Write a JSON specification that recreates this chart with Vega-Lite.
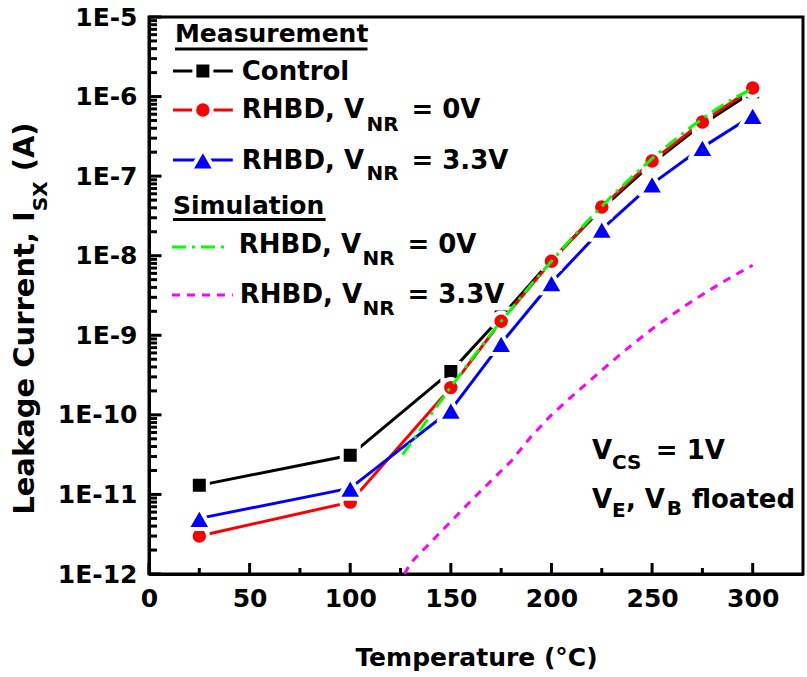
{
  "$schema": "https://vega.github.io/schema/vega-lite/v6.json",
  "width": 654,
  "height": 557,
  "autosize": {"type": "none"},
  "padding": {"left": 149, "top": 17, "right": 4, "bottom": 103},
  "background": "white",
  "config": {"view": {"stroke": "black", "strokeWidth": 3}, "font": "DejaVu Sans"},
  "data": {"values": [{}]},
  "datasets": {
    "xMajor": [{"v": 0}, {"v": 50}, {"v": 100}, {"v": 150}, {"v": 200}, {"v": 250}, {"v": 300}],
    "xMinor": [{"v": 25}, {"v": 75}, {"v": 125}, {"v": 175}, {"v": 225}, {"v": 275}],
    "yMajor": [{"v": 1e-12}, {"v": 1e-11}, {"v": 1e-10}, {"v": 1e-9}, {"v": 1e-8}, {"v": 1e-7}, {"v": 1e-6}, {"v": 1e-5}],
    "yMinor": [
      {"v": 2e-12}, {"v": 3e-12}, {"v": 4e-12}, {"v": 5e-12}, {"v": 6e-12}, {"v": 7e-12}, {"v": 8e-12}, {"v": 9e-12},
      {"v": 2e-11}, {"v": 3e-11}, {"v": 4e-11}, {"v": 5e-11}, {"v": 6e-11}, {"v": 7e-11}, {"v": 8e-11}, {"v": 9e-11},
      {"v": 2e-10}, {"v": 3e-10}, {"v": 4e-10}, {"v": 5e-10}, {"v": 6e-10}, {"v": 7e-10}, {"v": 8e-10}, {"v": 9e-10},
      {"v": 2e-9}, {"v": 3e-9}, {"v": 4e-9}, {"v": 5e-9}, {"v": 6e-9}, {"v": 7e-9}, {"v": 8e-9}, {"v": 9e-9},
      {"v": 2e-8}, {"v": 3e-8}, {"v": 4e-8}, {"v": 5e-8}, {"v": 6e-8}, {"v": 7e-8}, {"v": 8e-8}, {"v": 9e-8},
      {"v": 2e-7}, {"v": 3e-7}, {"v": 4e-7}, {"v": 5e-7}, {"v": 6e-7}, {"v": 7e-7}, {"v": 8e-7}, {"v": 9e-7},
      {"v": 2e-6}, {"v": 3e-6}, {"v": 4e-6}, {"v": 5e-6}, {"v": 6e-6}, {"v": 7e-6}, {"v": 8e-6}, {"v": 9e-6}
    ],
    "meas": [
      {"series": "Control", "T": 25, "I": 1.3e-11},
      {"series": "Control", "T": 100, "I": 3.1e-11},
      {"series": "Control", "T": 150, "I": 3.5e-10},
      {"series": "Control", "T": 175, "I": 1.7e-9},
      {"series": "Control", "T": 200, "I": 8.8e-9},
      {"series": "Control", "T": 225, "I": 3.9e-8},
      {"series": "Control", "T": 250, "I": 1.45e-7},
      {"series": "Control", "T": 275, "I": 4.5e-7},
      {"series": "Control", "T": 300, "I": 1.15e-6},
      {"series": "RHBD 0V", "T": 25, "I": 3.0e-12},
      {"series": "RHBD 0V", "T": 100, "I": 8.0e-12},
      {"series": "RHBD 0V", "T": 150, "I": 2.2e-10},
      {"series": "RHBD 0V", "T": 175, "I": 1.5e-9},
      {"series": "RHBD 0V", "T": 200, "I": 8.5e-9},
      {"series": "RHBD 0V", "T": 225, "I": 4.1e-8},
      {"series": "RHBD 0V", "T": 250, "I": 1.55e-7},
      {"series": "RHBD 0V", "T": 275, "I": 4.8e-7},
      {"series": "RHBD 0V", "T": 300, "I": 1.28e-6},
      {"series": "RHBD 3.3V", "T": 25, "I": 5.0e-12},
      {"series": "RHBD 3.3V", "T": 100, "I": 1.2e-11},
      {"series": "RHBD 3.3V", "T": 150, "I": 1.15e-10},
      {"series": "RHBD 3.3V", "T": 175, "I": 7.9e-10},
      {"series": "RHBD 3.3V", "T": 200, "I": 4.6e-9},
      {"series": "RHBD 3.3V", "T": 225, "I": 2.15e-8},
      {"series": "RHBD 3.3V", "T": 250, "I": 8.0e-8},
      {"series": "RHBD 3.3V", "T": 275, "I": 2.3e-7},
      {"series": "RHBD 3.3V", "T": 300, "I": 5.8e-7}
    ],
    "sim": [
      {"series": "Sim 0V", "T": 126, "I": 3.16e-11},
      {"series": "Sim 0V", "T": 130, "I": 4.37e-11},
      {"series": "Sim 0V", "T": 140, "I": 1.0e-10},
      {"series": "Sim 0V", "T": 150, "I": 2.24e-10},
      {"series": "Sim 0V", "T": 160, "I": 4.9e-10},
      {"series": "Sim 0V", "T": 170, "I": 1.05e-9},
      {"series": "Sim 0V", "T": 180, "I": 2.14e-9},
      {"series": "Sim 0V", "T": 190, "I": 4.37e-9},
      {"series": "Sim 0V", "T": 200, "I": 8.51e-9},
      {"series": "Sim 0V", "T": 210, "I": 1.66e-8},
      {"series": "Sim 0V", "T": 220, "I": 3.09e-8},
      {"series": "Sim 0V", "T": 230, "I": 5.62e-8},
      {"series": "Sim 0V", "T": 240, "I": 9.77e-8},
      {"series": "Sim 0V", "T": 250, "I": 1.66e-7},
      {"series": "Sim 0V", "T": 260, "I": 2.69e-7},
      {"series": "Sim 0V", "T": 270, "I": 4.27e-7},
      {"series": "Sim 0V", "T": 280, "I": 6.46e-7},
      {"series": "Sim 0V", "T": 290, "I": 9.33e-7},
      {"series": "Sim 0V", "T": 300, "I": 1.26e-6},
      {"series": "Sim 3.3V", "T": 127, "I": 1.0e-12},
      {"series": "Sim 3.3V", "T": 130, "I": 1.38e-12},
      {"series": "Sim 3.3V", "T": 140, "I": 2.51e-12},
      {"series": "Sim 3.3V", "T": 150, "I": 4.57e-12},
      {"series": "Sim 3.3V", "T": 160, "I": 8.32e-12},
      {"series": "Sim 3.3V", "T": 170, "I": 1.48e-11},
      {"series": "Sim 3.3V", "T": 180, "I": 2.63e-11},
      {"series": "Sim 3.3V", "T": 190, "I": 5.37e-11},
      {"series": "Sim 3.3V", "T": 200, "I": 1.0e-10},
      {"series": "Sim 3.3V", "T": 210, "I": 1.7e-10},
      {"series": "Sim 3.3V", "T": 220, "I": 2.82e-10},
      {"series": "Sim 3.3V", "T": 230, "I": 4.68e-10},
      {"series": "Sim 3.3V", "T": 240, "I": 7.59e-10},
      {"series": "Sim 3.3V", "T": 250, "I": 1.2e-9},
      {"series": "Sim 3.3V", "T": 260, "I": 1.82e-9},
      {"series": "Sim 3.3V", "T": 270, "I": 2.69e-9},
      {"series": "Sim 3.3V", "T": 280, "I": 3.89e-9},
      {"series": "Sim 3.3V", "T": 290, "I": 5.5e-9},
      {"series": "Sim 3.3V", "T": 300, "I": 7.59e-9}
    ]
  },
  "layer": [
    {
      "data": {"name": "meas"},
      "mark": {"type": "line", "strokeWidth": 3},
      "encoding": {
        "x": {
          "field": "T", "type": "quantitative",
          "scale": {"domain": [0, 325], "nice": false, "zero": false},
          "axis": {
            "title": "Temperature (°C)",
            "ticks": false,
            "values": [0, 50, 100, 150, 200, 250, 300],
            "domainWidth": 3, "domainColor": "black",
            "labelFont": "DejaVu Sans", "labelFontWeight": "bold", "labelFontSize": 25, "labelColor": "black",
            "labelPadding": 12, "labelOverlap": false, "labelFlush": false,
            "grid": false,
            "titleFont": "DejaVu Sans", "titleFontWeight": "bold", "titleFontSize": 25, "titleColor": "black",
            "titleBaseline": "alphabetic", "titleY": 91
          }
        },
        "y": {
          "field": "I", "type": "quantitative",
          "scale": {"type": "log", "domain": [1e-12, 1e-5], "nice": false},
          "axis": {
            "title": null,
            "ticks": false,
            "values": [1e-12, 1e-11, 1e-10, 1e-9, 1e-8, 1e-7, 1e-6, 1e-5],
            "labelExpr": "'1E' + round(log(datum.value)/LN10)",
            "domainWidth": 3, "domainColor": "black",
            "labelFont": "DejaVu Sans", "labelFontWeight": "bold", "labelFontSize": 25, "labelColor": "black",
            "labelPadding": 12, "labelOverlap": false, "labelFlush": false, "labelBaseline": "middle",
            "grid": false
          }
        },
        "color": {
          "field": "series", "type": "nominal",
          "scale": {"domain": ["Control", "RHBD 0V", "RHBD 3.3V"], "range": ["#000000", "#ff0000", "#0000ff"]},
          "legend": null
        }
      }
    },
    {
      "data": {"name": "yMajor"},
      "mark": {"type": "rule", "strokeWidth": 3, "color": "black"},
      "encoding": {"y": {"field": "v", "type": "quantitative"}, "x": {"datum": 0, "type": "quantitative"}, "x2": {"datum": 6.2}}
    },
    {
      "data": {"name": "yMinor"},
      "mark": {"type": "rule", "strokeWidth": 3, "color": "black"},
      "encoding": {"y": {"field": "v", "type": "quantitative"}, "x": {"datum": 0, "type": "quantitative"}, "x2": {"datum": 3.97}}
    },
    {
      "data": {"name": "xMajor"},
      "mark": {"type": "rule", "strokeWidth": 3, "color": "black"},
      "encoding": {"x": {"field": "v", "type": "quantitative"}, "y": {"datum": 1e-12, "type": "quantitative"}, "y2": {"datum": 1.374e-12}}
    },
    {
      "data": {"name": "xMinor"},
      "mark": {"type": "rule", "strokeWidth": 3, "color": "black"},
      "encoding": {"x": {"field": "v", "type": "quantitative"}, "y": {"datum": 1e-12, "type": "quantitative"}, "y2": {"datum": 1.19e-12}}
    },
    {
      "data": {"name": "meas"},
      "transform": [{"filter": "datum.series == 'Control'"}],
      "mark": {"type": "point", "shape": "square", "filled": true, "color": "#000000", "size": 289, "opacity": 1, "stroke": "white", "strokeWidth": 4},
      "encoding": {"x": {"field": "T", "type": "quantitative"}, "y": {"field": "I", "type": "quantitative"}}
    },
    {
      "data": {"name": "meas"},
      "transform": [{"filter": "datum.series == 'RHBD 0V'"}],
      "mark": {"type": "point", "shape": "circle", "filled": true, "color": "#ff0000", "size": 305, "opacity": 1, "stroke": "white", "strokeWidth": 4},
      "encoding": {"x": {"field": "T", "type": "quantitative"}, "y": {"field": "I", "type": "quantitative"}}
    },
    {
      "data": {"name": "meas"},
      "transform": [{"filter": "datum.series == 'RHBD 3.3V'"}],
      "mark": {"type": "point", "shape": "triangle-up", "filled": true, "color": "#0000ff", "size": 600, "opacity": 1, "stroke": "white", "strokeWidth": 4, "strokeJoin": "round"},
      "encoding": {"x": {"field": "T", "type": "quantitative"}, "y": {"field": "I", "type": "quantitative"}}
    },
    {
      "data": {"name": "sim"},
      "transform": [{"filter": "datum.series == 'Sim 3.3V'"}],
      "mark": {"type": "line", "strokeWidth": 3, "color": "#ff00ff", "strokeDash": [8, 7], "clip": true},
      "encoding": {"x": {"field": "T", "type": "quantitative"}, "y": {"field": "I", "type": "quantitative"}}
    },
    {
      "data": {"name": "sim"},
      "transform": [{"filter": "datum.series == 'Sim 0V'"}],
      "mark": {"type": "line", "strokeWidth": 3, "color": "#00ff00", "strokeDash": [14, 6, 3, 6], "clip": true},
      "encoding": {"x": {"field": "T", "type": "quantitative"}, "y": {"field": "I", "type": "quantitative"}}
    },

    {"mark": {"type": "text", "align": "left", "baseline": "alphabetic", "font": "DejaVu Sans", "fontWeight": "bold", "fontSize": 25, "color": "black", "text": "Measurement"},
     "encoding": {"x": {"datum": 12.89, "type": "quantitative"}, "y": {"datum": 4.852e-6, "type": "quantitative"}}},
    {"mark": {"type": "rule", "strokeWidth": 3, "color": "black"},
     "encoding": {"x": {"datum": 12.89, "type": "quantitative"}, "x2": {"datum": 108.58}, "y": {"datum": 3.963e-6, "type": "quantitative"}}},

    {"mark": {"type": "rule", "strokeWidth": 3, "color": "black"},
     "encoding": {"x": {"datum": 11.9, "type": "quantitative"}, "x2": {"datum": 41.65}, "y": {"datum": 2.097e-6, "type": "quantitative"}}},
    {"mark": {"type": "point", "shape": "square", "filled": true, "color": "#000000", "size": 289, "opacity": 1, "stroke": "white", "strokeWidth": 4},
     "encoding": {"x": {"datum": 26.77, "type": "quantitative"}, "y": {"datum": 2.097e-6, "type": "quantitative"}}},
    {"mark": {"type": "text", "align": "left", "baseline": "alphabetic", "font": "DejaVu Sans", "fontWeight": "bold", "fontSize": 26, "color": "black", "text": "Control"},
     "encoding": {"x": {"datum": 46.11, "type": "quantitative"}, "y": {"datum": 1.616e-6, "type": "quantitative"}}},

    {"mark": {"type": "rule", "strokeWidth": 3, "color": "#ff0000"},
     "encoding": {"x": {"datum": 11.9, "type": "quantitative"}, "x2": {"datum": 41.65}, "y": {"datum": 6.786e-7, "type": "quantitative"}}},
    {"mark": {"type": "point", "shape": "circle", "filled": true, "color": "#ff0000", "size": 305, "opacity": 1, "stroke": "white", "strokeWidth": 4},
     "encoding": {"x": {"datum": 26.77, "type": "quantitative"}, "y": {"datum": 6.786e-7, "type": "quantitative"}}},
    {"mark": {"type": "text", "align": "left", "baseline": "alphabetic", "font": "DejaVu Sans", "fontWeight": "bold", "fontSize": 26, "color": "black", "text": "RHBD, V"},
     "encoding": {"x": {"datum": 46.11, "type": "quantitative"}, "y": {"datum": 5.384e-7, "type": "quantitative"}}},
    {"mark": {"type": "text", "align": "left", "baseline": "alphabetic", "font": "DejaVu Sans", "fontWeight": "bold", "fontSize": 20, "color": "black", "text": "NR"},
     "encoding": {"x": {"datum": 108.08, "type": "quantitative"}, "y": {"datum": 3.697e-7, "type": "quantitative"}}},
    {"mark": {"type": "text", "align": "left", "baseline": "alphabetic", "font": "DejaVu Sans", "fontWeight": "bold", "fontSize": 26, "color": "black", "text": "= 0V"},
     "encoding": {"x": {"datum": 130.39, "type": "quantitative"}, "y": {"datum": 5.384e-7, "type": "quantitative"}}},

    {"mark": {"type": "rule", "strokeWidth": 3, "color": "#0000ff"},
     "encoding": {"x": {"datum": 11.9, "type": "quantitative"}, "x2": {"datum": 41.65}, "y": {"datum": 1.597e-7, "type": "quantitative"}}},
    {"mark": {"type": "point", "shape": "triangle-up", "filled": true, "color": "#0000ff", "size": 600, "opacity": 1, "stroke": "white", "strokeWidth": 4, "strokeJoin": "round"},
     "encoding": {"x": {"datum": 26.77, "type": "quantitative"}, "y": {"datum": 1.597e-7, "type": "quantitative"}}},
    {"mark": {"type": "text", "align": "left", "baseline": "alphabetic", "font": "DejaVu Sans", "fontWeight": "bold", "fontSize": 26, "color": "black", "text": "RHBD, V"},
     "encoding": {"x": {"datum": 46.11, "type": "quantitative"}, "y": {"datum": 1.232e-7, "type": "quantitative"}}},
    {"mark": {"type": "text", "align": "left", "baseline": "alphabetic", "font": "DejaVu Sans", "fontWeight": "bold", "fontSize": 20, "color": "black", "text": "NR"},
     "encoding": {"x": {"datum": 108.08, "type": "quantitative"}, "y": {"datum": 8.96e-8, "type": "quantitative"}}},
    {"mark": {"type": "text", "align": "left", "baseline": "alphabetic", "font": "DejaVu Sans", "fontWeight": "bold", "fontSize": 26, "color": "black", "text": "= 3.3V"},
     "encoding": {"x": {"datum": 130.39, "type": "quantitative"}, "y": {"datum": 1.232e-7, "type": "quantitative"}}},

    {"mark": {"type": "text", "align": "left", "baseline": "alphabetic", "font": "DejaVu Sans", "fontWeight": "bold", "fontSize": 25, "color": "black", "text": "Simulation"},
     "encoding": {"x": {"datum": 11.9, "type": "quantitative"}, "y": {"datum": 3.35e-8, "type": "quantitative"}}},
    {"mark": {"type": "rule", "strokeWidth": 3, "color": "black"},
     "encoding": {"x": {"datum": 11.9, "type": "quantitative"}, "x2": {"datum": 87.75}, "y": {"datum": 2.858e-8, "type": "quantitative"}}},

    {"mark": {"type": "rule", "strokeWidth": 3, "color": "#00ff00", "strokeDash": [14, 6, 3, 6]},
     "encoding": {"x": {"datum": 11.4, "type": "quantitative"}, "x2": {"datum": 37.68}, "y": {"datum": 1.29e-8, "type": "quantitative"}}},
    {"mark": {"type": "text", "align": "left", "baseline": "alphabetic", "font": "DejaVu Sans", "fontWeight": "bold", "fontSize": 26, "color": "black", "text": "RHBD, V"},
     "encoding": {"x": {"datum": 44.62, "type": "quantitative"}, "y": {"datum": 1.084e-8, "type": "quantitative"}}},
    {"mark": {"type": "text", "align": "left", "baseline": "alphabetic", "font": "DejaVu Sans", "fontWeight": "bold", "fontSize": 20, "color": "black", "text": "NR"},
     "encoding": {"x": {"datum": 106.1, "type": "quantitative"}, "y": {"datum": 7.661e-9, "type": "quantitative"}}},
    {"mark": {"type": "text", "align": "left", "baseline": "alphabetic", "font": "DejaVu Sans", "fontWeight": "bold", "fontSize": 26, "color": "black", "text": "= 0V"},
     "encoding": {"x": {"datum": 128.41, "type": "quantitative"}, "y": {"datum": 1.084e-8, "type": "quantitative"}}},

    {"mark": {"type": "rule", "strokeWidth": 3, "color": "#ff00ff", "strokeDash": [8, 7]},
     "encoding": {"x": {"datum": 11.4, "type": "quantitative"}, "x2": {"datum": 41.65}, "y": {"datum": 3.217e-9, "type": "quantitative"}}},
    {"mark": {"type": "text", "align": "left", "baseline": "alphabetic", "font": "DejaVu Sans", "fontWeight": "bold", "fontSize": 26, "color": "black", "text": "RHBD, V"},
     "encoding": {"x": {"datum": 45.12, "type": "quantitative"}, "y": {"datum": 2.553e-9, "type": "quantitative"}}},
    {"mark": {"type": "text", "align": "left", "baseline": "alphabetic", "font": "DejaVu Sans", "fontWeight": "bold", "fontSize": 20, "color": "black", "text": "NR"},
     "encoding": {"x": {"datum": 106.1, "type": "quantitative"}, "y": {"datum": 1.804e-9, "type": "quantitative"}}},
    {"mark": {"type": "text", "align": "left", "baseline": "alphabetic", "font": "DejaVu Sans", "fontWeight": "bold", "fontSize": 26, "color": "black", "text": "= 3.3V"},
     "encoding": {"x": {"datum": 128.41, "type": "quantitative"}, "y": {"datum": 2.553e-9, "type": "quantitative"}}},

    {"mark": {"type": "text", "align": "left", "baseline": "alphabetic", "font": "DejaVu Sans", "fontWeight": "bold", "fontSize": 26, "color": "black", "text": "V"},
     "encoding": {"x": {"datum": 220.13, "type": "quantitative"}, "y": {"datum": 2.801e-11, "type": "quantitative"}}},
    {"mark": {"type": "text", "align": "left", "baseline": "alphabetic", "font": "DejaVu Sans", "fontWeight": "bold", "fontSize": 20, "color": "black", "text": "CS"},
     "encoding": {"x": {"datum": 230.04, "type": "quantitative"}, "y": {"datum": 2.097e-11, "type": "quantitative"}}},
    {"mark": {"type": "text", "align": "left", "baseline": "alphabetic", "font": "DejaVu Sans", "fontWeight": "bold", "fontSize": 26, "color": "black", "text": "= 1V"},
     "encoding": {"x": {"datum": 251.86, "type": "quantitative"}, "y": {"datum": 2.801e-11, "type": "quantitative"}}},
    {"mark": {"type": "text", "align": "left", "baseline": "alphabetic", "font": "DejaVu Sans", "fontWeight": "bold", "fontSize": 26, "color": "black", "text": "V"},
     "encoding": {"x": {"datum": 220.13, "type": "quantitative"}, "y": {"datum": 6.786e-12, "type": "quantitative"}}},
    {"mark": {"type": "text", "align": "left", "baseline": "alphabetic", "font": "DejaVu Sans", "fontWeight": "bold", "fontSize": 20, "color": "black", "text": "E"},
     "encoding": {"x": {"datum": 230.04, "type": "quantitative"}, "y": {"datum": 5.232e-12, "type": "quantitative"}}},
    {"mark": {"type": "text", "align": "left", "baseline": "alphabetic", "font": "DejaVu Sans", "fontWeight": "bold", "fontSize": 26, "color": "black", "text": ", V"},
     "encoding": {"x": {"datum": 236.99, "type": "quantitative"}, "y": {"datum": 6.786e-12, "type": "quantitative"}}},
    {"mark": {"type": "text", "align": "left", "baseline": "alphabetic", "font": "DejaVu Sans", "fontWeight": "bold", "fontSize": 20, "color": "black", "text": "B"},
     "encoding": {"x": {"datum": 257.31, "type": "quantitative"}, "y": {"datum": 5.543e-12, "type": "quantitative"}}},
    {"mark": {"type": "text", "align": "left", "baseline": "alphabetic", "font": "DejaVu Sans", "fontWeight": "bold", "fontSize": 26, "color": "black", "text": "floated"},
     "encoding": {"x": {"datum": 269.71, "type": "quantitative"}, "y": {"datum": 6.786e-12, "type": "quantitative"}}},

    {"mark": {"type": "text", "align": "left", "baseline": "alphabetic", "angle": 270, "font": "DejaVu Sans", "fontWeight": "bold", "fontSize": 29, "color": "black", "text": "Leakage Current, I"},
     "encoding": {"x": {"datum": -57.0, "type": "quantitative"}, "y": {"datum": 5.543e-12, "type": "quantitative"}}},
    {"mark": {"type": "text", "align": "left", "baseline": "alphabetic", "angle": 270, "font": "DejaVu Sans", "fontWeight": "bold", "fontSize": 20, "color": "black", "text": "SX"},
     "encoding": {"x": {"datum": -50.57, "type": "quantitative"}, "y": {"datum": 3.622e-8, "type": "quantitative"}}},
    {"mark": {"type": "text", "align": "left", "baseline": "alphabetic", "angle": 270, "font": "DejaVu Sans", "fontWeight": "bold", "fontSize": 29, "color": "black", "text": "(A)"},
     "encoding": {"x": {"datum": -57.0, "type": "quantitative"}, "y": {"datum": 1.149e-7, "type": "quantitative"}}}
  ]
}
